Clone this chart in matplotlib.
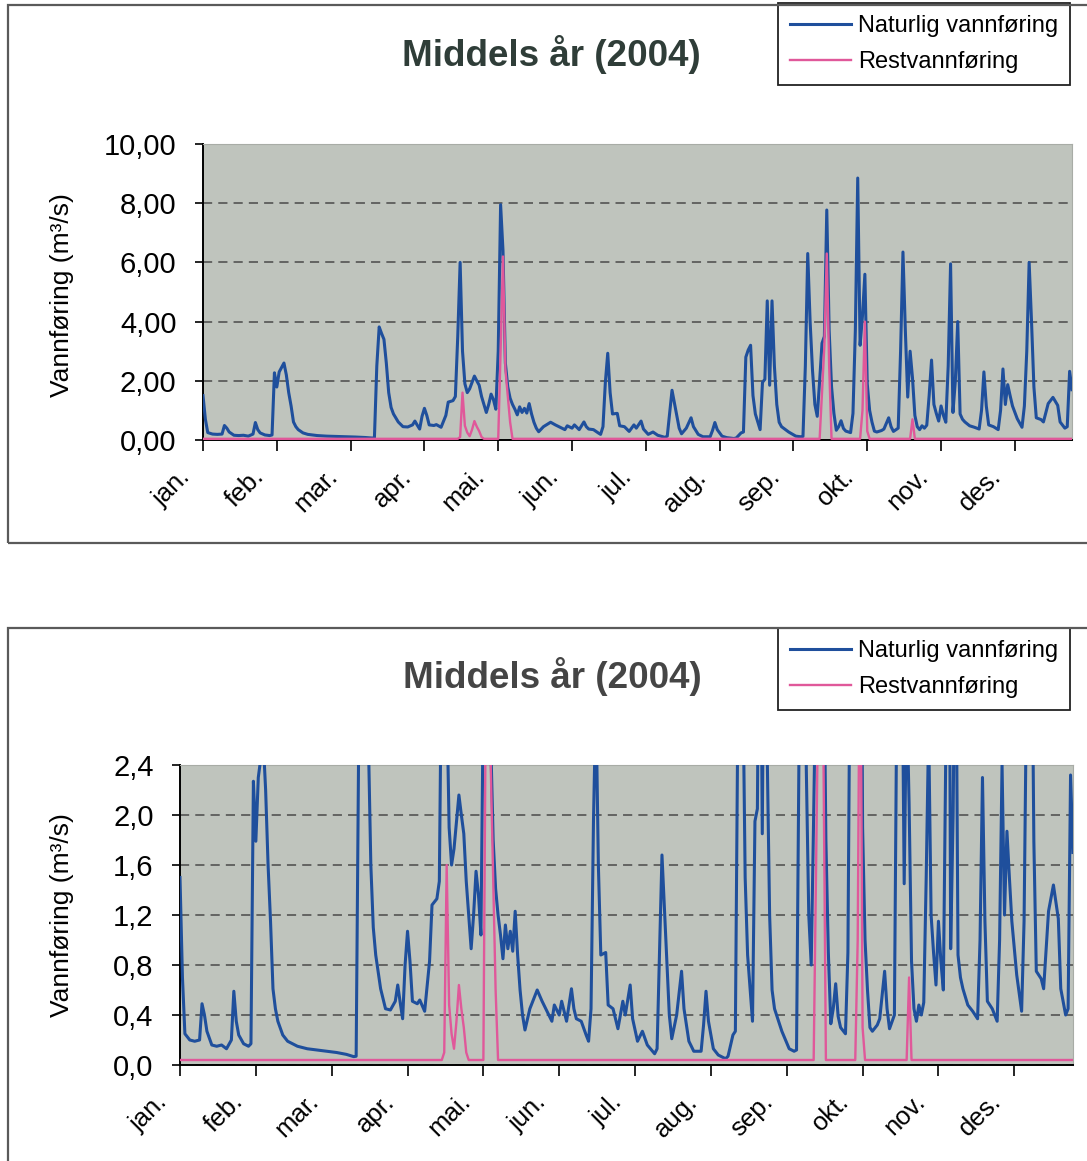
import matplotlib
matplotlib.use("Agg")
import matplotlib.pyplot as plt
from matplotlib.patches import Rectangle
from matplotlib.transforms import ScaledTranslation, blended_transform_factory

plt.rcParams['font.family'] = ['Liberation Sans', 'DejaVu Sans']

# day of year (0 = 1 jan 2004) and flow in m3/s
natur_days = [0, 1, 2, 4, 6, 8, 9, 10, 11, 13, 15, 17, 19, 21, 22, 23, 24, 26, 28, 29,
              30, 31, 32, 33, 34, 35, 36, 37, 38, 39, 40, 42, 44, 48, 52, 56, 60, 64, 68, 71,
              72, 73, 74, 75, 76, 77, 78, 79, 80, 82, 84, 86, 88, 89, 90, 91, 92, 93, 94, 95,
              97, 98, 100, 102, 103, 105, 106, 107, 108, 109, 110, 111, 112, 113, 114, 115, 116, 117, 119, 120,
              121, 122, 123, 124, 125, 126, 127, 128, 129, 130, 131, 132, 133, 134, 135, 136, 137, 138, 139, 140,
              141, 143, 146, 148, 150, 152, 153, 155, 156, 158, 160, 161, 162, 164, 166, 167, 168, 169, 170, 171,
              172, 174, 175, 177, 179, 181, 182, 184, 185, 187, 189, 191, 194, 195, 196, 197, 199, 200, 201, 203,
              205, 206, 208, 210, 213, 214, 215, 216, 218, 220, 223, 224, 226, 227, 228, 229, 230, 231, 232, 234,
              235, 236, 237, 238, 239, 240, 241, 242, 243, 246, 249, 251, 252, 253, 254, 255, 256, 257, 258, 259,
              260, 261, 262, 263, 264, 265, 266, 267, 268, 269, 270, 272, 273, 274, 275, 276, 277, 278, 279, 280,
              281, 282, 283, 285, 286, 288, 289, 290, 292, 293, 294, 295, 296, 297, 298, 299, 300, 301, 302, 303,
              304, 305, 306, 307, 308, 309, 310, 311, 312, 313, 314, 315, 316, 317, 318, 319, 320, 322, 324, 326,
              327, 328, 329, 330, 332, 334, 335, 336, 337, 338, 339, 340, 342, 344, 345, 346, 347, 348, 349, 350,
              352, 353, 355, 357, 359, 360, 362, 363, 364, 365]
natur_vals = [1.50, 0.70, 0.25, 0.20, 0.19, 0.20, 0.49, 0.40, 0.27, 0.16, 0.15, 0.16, 0.13, 0.20, 0.59, 0.35, 0.24, 0.17, 0.15, 0.17,
              2.27, 1.79, 2.30, 2.45, 2.60, 2.20, 1.60, 1.15, 0.61, 0.45, 0.35, 0.24, 0.19, 0.15, 0.13, 0.12, 0.11, 0.10, 0.085, 0.067,
              0.07, 2.50, 3.82, 3.60, 3.40, 2.60, 1.60, 1.10, 0.88, 0.61, 0.45, 0.44, 0.51, 0.64, 0.50, 0.37, 0.80, 1.07, 0.83, 0.51,
              0.49, 0.52, 0.43, 0.83, 1.28, 1.33, 1.47, 3.50, 6.00, 3.00, 1.90, 1.60, 1.73, 1.95, 2.16, 2.00, 1.85, 1.47, 0.93, 1.20,
              1.55, 1.36, 1.04, 3.00, 7.95, 6.40, 2.60, 1.80, 1.41, 1.20, 1.04, 0.85, 1.12, 0.93, 1.07, 0.91, 1.23, 0.88, 0.60, 0.40,
              0.28, 0.45, 0.60, 0.51, 0.43, 0.35, 0.48, 0.40, 0.51, 0.35, 0.61, 0.45, 0.37, 0.35, 0.24, 0.19, 0.45, 1.95, 2.93, 1.60,
              0.88, 0.90, 0.48, 0.45, 0.29, 0.51, 0.40, 0.64, 0.37, 0.19, 0.27, 0.16, 0.09, 0.13, 0.91, 1.68, 0.83, 0.40, 0.21, 0.40,
              0.75, 0.45, 0.19, 0.11, 0.11, 0.32, 0.59, 0.35, 0.13, 0.08, 0.05, 0.07, 0.24, 0.27, 2.80, 3.04, 3.20, 1.50, 0.88, 0.35,
              1.95, 2.05, 4.70, 1.85, 4.70, 2.50, 1.20, 0.60, 0.45, 0.27, 0.13, 0.11, 0.12, 2.50, 6.30, 4.00, 2.36, 1.20, 0.80, 2.00,
              3.27, 3.50, 7.77, 3.70, 1.80, 0.90, 0.33, 0.45, 0.65, 0.39, 0.30, 0.25, 0.90, 3.70, 8.85, 3.20, 4.20, 5.60, 1.90, 1.00,
              0.60, 0.30, 0.27, 0.32, 0.37, 0.75, 0.45, 0.29, 0.40, 3.00, 6.35, 3.70, 1.45, 3.00, 2.10, 0.83, 0.45, 0.35, 0.48, 0.40,
              0.50, 1.50, 2.70, 1.20, 0.90, 0.64, 1.15, 0.83, 0.60, 2.50, 5.95, 0.93, 2.00, 4.00, 0.88, 0.70, 0.61, 0.48, 0.43, 0.37,
              1.00, 2.30, 1.15, 0.51, 0.45, 0.35, 1.00, 2.40, 1.20, 1.87, 1.50, 1.15, 0.72, 0.43, 1.15, 3.00, 6.00, 4.00, 1.79, 0.75,
              0.69, 0.61, 1.23, 1.44, 1.17, 0.61, 0.40, 0.45, 2.32, 1.70]

rest_days = [0, 107, 108, 109, 110, 111, 112, 113, 114, 115, 116, 117, 118,
             124, 125, 126, 127, 128, 129, 130,
             259, 260, 261, 262, 263, 264,
             276, 277, 278, 279, 280,
             297, 298, 299, 365]
rest_vals = [0.04, 0.04, 0.10, 1.60, 0.48, 0.25, 0.13, 0.35, 0.64, 0.45, 0.30, 0.10, 0.04,
             0.04, 3.00, 6.20, 2.40, 1.50, 0.60, 0.04,
             0.04, 1.60, 3.20, 6.30, 2.50, 0.04,
             0.04, 1.00, 4.00, 0.30, 0.04,
             0.04, 0.70, 0.04, 0.04]

months = ["jan.", "feb.", "mar.", "apr.", "mai.", "jun.", "jul.", "aug.", "sep.", "okt.", "nov.", "des."]
month_ticks = list(range(0, 366, 31))

top_yticks = [0, 2, 4, 6, 8, 10]
top_ylabels = ["0,00", "2,00", "4,00", "6,00", "8,00", "10,00"]
bot_yticks = [0.0, 0.4, 0.8, 1.2, 1.6, 2.0, 2.4]
bot_ylabels = ["0,0", "0,4", "0,8", "1,2", "1,6", "2,0", "2,4"]

title = "Middels år (2004)"
ylabel = "Vannføring (m³/s)"

W, H = 1087, 1161
fig = plt.figure(figsize=(W / 100, H / 100), dpi=100)


def fx(px):
    return px / W


def fy(py):
    return 1 - py / H


def panel(ax_px, box_px, yticks, ylabels, title_xy, title_color, ylabel_y, leg_xy):
    x0, y0, x1, y1 = ax_px
    ax = fig.add_axes([fx(x0), fy(y1), fx(x1 - x0), (y1 - y0) / H])
    ax.set_facecolor("#bfc4bd")
    ax.plot(natur_days, natur_vals, color="#1f4f9c", lw=2.2, label="Naturlig vannføring", zorder=3)
    ax.plot(rest_days, rest_vals, color="#e0589a", lw=1.7, label="Restvannføring", zorder=4)
    ax.set_xlim(0, 365)
    ax.set_ylim(yticks[0], yticks[-1])
    ax.set_yticks(yticks, ylabels, fontsize=21)
    ax.set_xticks(month_ticks, [""] * len(month_ticks))
    # month names drawn by hand, a bit left of and below each tick
    trans = blended_transform_factory(ax.transData, ax.transAxes) + \
        ScaledTranslation(-0.17, -0.33, fig.dpi_scale_trans)
    for d, m in zip(month_ticks, months):
        ax.text(d, 0, m, transform=trans, fontsize=18.5, rotation=45, ha="right", va="center",
                rotation_mode="anchor")
    ax.tick_params(axis="x", length=8, width=1.2)
    ax.tick_params(axis="y", length=6, width=1.2, pad=13)
    ax.grid(axis="y", color="#4a4a4a", ls=(0, (6, 4)), lw=1.1)
    for s in ["top", "right"]:
        ax.spines[s].set_color("#a8aca6")
    for s in ["left", "bottom"]:
        ax.spines[s].set_linewidth(1.4)

    bx0, by0, bx1, by1 = box_px
    fig.add_artist(Rectangle((fx(bx0), fy(by1)), fx(bx1 - bx0), (by1 - by0) / H,
                             transform=fig.transFigure, fill=False, ec="#5a5a5a", lw=1.6))
    fig.text(fx(title_xy[0]), fy(title_xy[1]), title, fontsize=26.5, fontweight="bold",
             color=title_color, ha="center", va="center")
    fig.text(fx(62), fy(ylabel_y), ylabel, fontsize=19, rotation=90, ha="center", va="center")
    leg = ax.legend(loc="upper right", bbox_to_anchor=(fx(leg_xy[0]), fy(leg_xy[1])),
                    bbox_transform=fig.transFigure, fontsize=17, frameon=True, fancybox=False,
                    framealpha=1, edgecolor="#222222", handlelength=2.6, handletextpad=0.3,
                    borderpad=0.5, labelspacing=0.6, borderaxespad=0)
    leg.get_frame().set_linewidth(1.3)
    return ax


panel((203, 144, 1072, 440), (8, 5, 1100, 543), top_yticks, top_ylabels,
      (551, 55), "#2f3d38", 295, (1070, 3))
panel((180, 765, 1073, 1065), (8, 628, 1100, 1175), bot_yticks, bot_ylabels,
      (552, 677), "#454545", 915, (1070, 628))

fig.savefig("out.png", dpi=100)
